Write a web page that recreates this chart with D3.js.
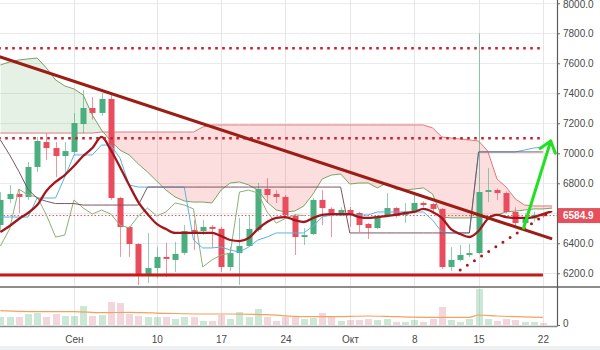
<!DOCTYPE html>
<html>
<head>
<meta charset="utf-8">
<script src="https://cdn.jsdelivr.net/npm/d3@7"></script>
<style>
  html, body { margin: 0; padding: 0; background: #ffffff; }
  svg { display: block; font-family: "Liberation Sans", Arial, sans-serif; }
</style>
</head>
<body>
<svg id="chart" width="600" height="350"></svg>
<script>
// BTC/USD, daily candles from 24 Aug 2018 (day 0) to 22 Oct 2018 (day 59)
const firstDay = "2018-08-24";

const opens  = [6522,6695,6729,6709,6909,7075,7035,6982,7009,7195,7302,7269,7362,6702,6509,6395,6189,6235,6309,6289,
                6336,6489,6482,6509,6496,6242,6335,6382,6489,6762,6729,6709,6582,6442,6462,6689,6629,6595,6622,6602,
                6529,6502,6582,6635,6589,6609,6669,6662,6629,6242,6289,6322,6335,6742,6755,6735,6609,6535,6566,6590];
const highs  = [6742,6789,6755,6942,7109,7135,7075,7075,7269,7422,7375,7402,7402,6710,6515,6400,6469,6375,6402,6409,
                6522,6555,6555,6522,6509,6375,6569,6589,6802,6835,6755,6722,6595,6502,6700,6755,6640,6640,6642,6610,
                6535,6590,6735,6642,6669,6722,6680,6670,6635,6375,6389,6395,7800,6902,6765,6745,6640,6600,6610,6600];
const lows   = [6475,6669,6602,6689,6875,6955,6842,6869,6989,7135,7225,7250,6690,6309,6309,6122,6135,6169,6176,6209,
                6322,6355,6455,6369,6209,6215,6122,6375,6475,6669,6669,6569,6322,6389,6455,6522,6442,6580,6509,6475,
                6429,6495,6575,6570,6535,6600,6640,6600,6229,6215,6280,6309,6329,6675,6689,6600,6509,6520,6545,6570];
const closes = [6689,6729,6709,6909,7082,7035,6982,7015,7202,7302,7269,7362,6702,6509,6395,6189,6235,6309,6296,6329,
                6482,6475,6509,6496,6242,6335,6382,6495,6762,6722,6709,6589,6442,6455,6689,6635,6595,6622,6595,6522,
                6502,6582,6635,6582,6609,6669,6655,6629,6242,6289,6322,6335,6742,6755,6735,6609,6535,6566,6590,6584.9];
// daily volume, thousands
const volumes = [8,8,8,11,12,8,11,9,9,19, 9,10,23,22,11,9,8,8,8,6, 8,8,4,4,10,6,13,8,16,8,
                 4,8,8,6,7,12,8,4,5,5, 6,5,6,3,3,5,3,6,18,5, 3,6,36,6,4,6,5,3,3,2];
// volume moving average: [day, value]
const volumeAvg = [[0,14.3],[4,13.3],[8,13.3],[11,12.3],[14,12.7],[18,11.7],[22,11],[25,11],[29,10.3],
                   [33,8.3],[36,8.3],[40,9],[43,8.3],[47,7.7],[51,7.7],[52,10],[54,9],[59,7.7]];

// Ichimoku components, one value per day
const leadSpanA = [7589,7609,7622,7629,7635,7569,7489,7449,7429,7389,7255,7155,7082,7022,6989,6929,6875,6815,6755,6709,
                   6682,6675,6675,6669,6755,6802,6809,6789,6755,6675,6622,6609,6615,6649,6729,6829,6855,6862,6795,6802,
                   6802,6769,6802,6762,6755,6762,6769,6729,6575,6569,6569,6569,6575,6575,6589,6609,6615,6622,6629,6629,6635];
const leadSpanB = [7135,7135,7135,7135,7135,7135,7135,7135,7135,7135,7135,7142,7142,7142,7142,7142,7142,7142,7142,7142,
                   7142,7142,7175,7189,7189,7189,7189,7189,7189,7189,7189,7189,7189,7189,7189,7189,7189,7189,7189,7189,
                   7189,7189,7189,7189,7189,7189,7189,7169,7109,7102,7095,7089,7082,7015,6829,6775,6695,6655,6649,6649,6649];
const baseLine = [7089,6990,6880,6760,6700,6680,6665,6665,6665,6655,6655,6655,6655,6655,6655,6655,6775,6775,6775,6775,
                  6775,6775,6775,6775,6775,6775,6775,6775,6775,6775,6775,6775,6775,6775,6775,6775,6775,6775,6469,6469,
                  6469,6469,6469,6469,6469,6469,6469,6469,6469,6469,6469,6469,7009,7009,7009,7009,7009,7009,7009,7009];
const conversionLine = [6575,6575,6575,6575,6702,6702,6702,6842,6989,6989,6989,7055,7055,6969,6789,6775,6775,6775,6775,6775,
                        6775,6422,6369,6369,6375,6355,6342,6375,6422,6442,6469,6469,6469,6469,6515,6575,6589,6589,6589,6589,
                        6589,6609,6609,6609,6609,6609,6609,6555,6475,6469,6469,6469,7009,7009,7009,7009,7009,7022,7035,7042];
const laggingShift = 26;
// smoothed average drawn as the thick dark-red curve
const averageLine = [6475,6515,6562,6602,6655,6749,6809,6855,6915,6982,7035,7109,7022,6909,6789,6675,6595,6529,6495,6469,
                     6469,6469,6469,6469,6449,6422,6415,6435,6495,6542,6569,6575,6555,6542,6569,6589,6595,6595,6595,6575,
                     6569,6575,6582,6589,6602,6609,6629,6609,6569,6495,6462,6442,6482,6562,6589,6575,6569,6569,6575,6595,6615];

// drawn levels and trend lines, as [day, price]
const resistanceLevels = [7700, 7100];
const supportLevel = 6189;
const levelSpan = [-1, 59];
const downTrend = [[-1, 7662], [60, 6429]];
const risingSupport = [[50, 6222], [60, 6620]];
const targetArrow = [[56.9, 6502], [59.85, 7082]];

// axes
const priceTicks = [6200, 6400, 6600, 6800, 7000, 7200, 7400, 7600, 7800, 8000];
const timeTicks = ["2018-09-01","2018-09-10","2018-09-17","2018-09-24","2018-10-01","2018-10-08","2018-10-15","2018-10-22"];
const timeTickLabels = ["Сен","10","17","24","Окт","8","15","22"];
const lastPrice = closes[closes.length - 1];

// ---------------------------------------------------------------------------
const DAY = 864e5;
const t0 = d3.utcParse("%Y-%m-%d")(firstDay).getTime();
const dayDate = i => new Date(t0 + i * DAY);

const plotRight = 557, mainBottom = 286, axisY = 326.5;
const svg = d3.select("#chart");

const x = d3.scaleUtc().domain([dayDate(-0.044), dayDate(60.53)]).range([0, plotRight]);
const xi = i => x(dayDate(i));
const y = d3.scaleLinear().domain([6200, 8000]).range([273.3, 3.3]);
const yv = d3.scaleLinear().domain([0, 40]).range([325, 285]);

const candles = opens.map((o, i) => ({ i, o, h: highs[i], l: lows[i], c: closes[i], v: volumes[i], up: closes[i] >= o }));
const UP = "#4bae7f", DOWN = "#e84c5d";

// bottom strip
svg.append("rect").attr("x", 0).attr("y", 346).attr("width", 600).attr("height", 4).attr("fill", "#eef0f2");

// grid
const grid = svg.append("g");
grid.selectAll("line.h").data(priceTicks).join("line")
  .attr("x1", 0).attr("x2", plotRight)
  .attr("y1", d => Math.round(y(d)) + 0.5).attr("y2", d => Math.round(y(d)) + 0.5)
  .attr("stroke", "#ebebeb");
const tickDates = timeTicks.map(d => d3.utcParse("%Y-%m-%d")(d));
grid.selectAll("line.v").data(tickDates).join("line")
  .attr("x1", d => Math.round(x(d)) + 0.5).attr("x2", d => Math.round(x(d)) + 0.5)
  .attr("y1", 0).attr("y2", axisY)
  .attr("stroke", "#e6e6e6");

// clip paths
const defs = svg.append("defs");
defs.append("clipPath").attr("id", "mainClip").append("rect")
  .attr("x", 0).attr("y", 0).attr("width", plotRight).attr("height", mainBottom);
const cloud = leadSpanA.map((a, i) => ({ i, a, b: leadSpanB[i] }));
defs.append("clipPath").attr("id", "aboveA").append("path")
  .attr("d", d3.area().x(d => xi(d.i)).y0(-50).y1(d => y(d.a))(cloud));
defs.append("clipPath").attr("id", "aboveB").append("path")
  .attr("d", d3.area().x(d => xi(d.i)).y0(-50).y1(d => y(d.b))(cloud));

const main = svg.append("g").attr("clip-path", "url(#mainClip)");

// cloud fill: red where span B is above span A, green otherwise
const band = d3.area().x(d => xi(d.i)).y0(d => y(d.a)).y1(d => y(d.b));
main.append("g").attr("clip-path", "url(#aboveA)").append("path")
  .attr("d", band(cloud)).attr("fill", "rgba(240,90,90,0.2)");
main.append("g").attr("clip-path", "url(#aboveB)").append("path")
  .attr("d", band(cloud)).attr("fill", "rgba(90,165,90,0.16)");

const lineOf = (acc) => d3.line().x((d, i) => xi(i)).y(d => y(acc(d)));
main.append("path").attr("d", lineOf(d => d)(leadSpanA))
  .attr("fill", "none").attr("stroke", "#7aa367").attr("stroke-width", 1);
main.append("path").attr("d", lineOf(d => d)(leadSpanB))
  .attr("fill", "none").attr("stroke", "#e07a7a").attr("stroke-width", 1);

// current price line
main.append("line")
  .attr("x1", 0).attr("x2", plotRight).attr("y1", y(lastPrice)).attr("y2", y(lastPrice))
  .attr("stroke", "#e5505c").attr("stroke-width", 1).attr("stroke-dasharray", "1.5 2");

// candles
const cg = main.append("g");
cg.selectAll("line.wick").data(candles).join("line")
  .attr("x1", d => Math.round(xi(d.i)) + 0.5).attr("x2", d => Math.round(xi(d.i)) + 0.5)
  .attr("y1", d => y(d.h)).attr("y2", d => y(d.l))
  .attr("stroke", d => d.up ? UP : DOWN).attr("stroke-opacity", 0.6).attr("stroke-width", 1);
cg.selectAll("rect.body").data(candles).join("rect")
  .attr("x", d => Math.round(xi(d.i)) - 2.5).attr("width", 6)
  .attr("y", d => y(Math.max(d.o, d.c)))
  .attr("height", d => Math.max(1.5, Math.abs(y(d.o) - y(d.c))))
  .attr("fill", d => d.up ? UP : DOWN);

// ichimoku lines
const lagging = closes.slice(laggingShift);
main.append("path").attr("d", lineOf(d => d)(lagging))
  .attr("fill", "none").attr("stroke", "#8cb07a").attr("stroke-width", 1);
main.append("path").attr("d", lineOf(d => d)(conversionLine))
  .attr("fill", "none").attr("stroke", "#59b4e4").attr("stroke-width", 1);
main.append("path").attr("d", lineOf(d => d)(baseLine))
  .attr("fill", "none").attr("stroke", "#7d5562").attr("stroke-width", 1);
main.append("path").attr("d", d3.line().x((d, i) => xi(i)).y(d => y(d)).curve(d3.curveMonotoneX)(averageLine))
  .attr("fill", "none").attr("stroke", "#a3171c").attr("stroke-width", 2.3);

// drawn levels
const seg = d3.line().x(d => xi(d[0])).y(d => y(d[1]));
resistanceLevels.forEach(p => {
  main.append("path").attr("d", seg([[levelSpan[0], p], [levelSpan[1], p]]))
    .attr("fill", "none").attr("stroke", "#c9202d").attr("stroke-width", 2.6)
    .attr("stroke-dasharray", "2.6 4.4");
});
main.append("path").attr("d", seg([[levelSpan[0], supportLevel], [levelSpan[1], supportLevel]]))
  .attr("fill", "none").attr("stroke", "#c81818").attr("stroke-width", 3);
main.append("path").attr("d", seg(downTrend))
  .attr("fill", "none").attr("stroke", "#9b1d14").attr("stroke-width", 3);
main.append("path").attr("d", seg(risingSupport))
  .attr("fill", "none").attr("stroke", "#a51c1c").attr("stroke-width", 3)
  .attr("stroke-linecap", "round").attr("stroke-dasharray", "0 8.5");

// target arrow
const a0 = [xi(targetArrow[0][0]), y(targetArrow[0][1])];
const a1 = [xi(targetArrow[1][0]), y(targetArrow[1][1])];
const ang = Math.atan2(a0[1] - a1[1], a0[0] - a1[0]);
const wing = (da) => [a1[0] + 13 * Math.cos(ang + da), a1[1] + 13 * Math.sin(ang + da)];
svg.append("path").attr("d", d3.line()([a0, a1]))
  .attr("fill", "none").attr("stroke", "#22e022").attr("stroke-width", 3).attr("stroke-linecap", "round");
svg.append("path").attr("d", d3.line()([wing(0.66), a1, wing(-0.66)]))
  .attr("fill", "none").attr("stroke", "#22e022").attr("stroke-width", 3)
  .attr("stroke-linecap", "round").attr("stroke-linejoin", "round");

// volume pane
const vg = svg.append("g");
vg.selectAll("rect").data(candles).join("rect")
  .attr("x", d => Math.round(xi(d.i)) - 3).attr("width", 7)
  .attr("y", d => yv(d.v)).attr("height", d => yv(0) - yv(d.v))
  .attr("fill", d => d.up ? "rgba(83,178,120,0.3)" : "rgba(215,120,135,0.3)");
vg.append("path").attr("d", d3.line().x(d => xi(d[0])).y(d => yv(d[1])).curve(d3.curveMonotoneX)(volumeAvg))
  .attr("fill", "none").attr("stroke", "#f5a05e").attr("stroke-width", 1.2);

// frame lines
svg.append("line").attr("x1", 0).attr("x2", 600).attr("y1", 287).attr("y2", 287)
  .attr("stroke", "#8c8c8c").attr("stroke-width", 2);
svg.append("line").attr("x1", 0).attr("x2", plotRight).attr("y1", axisY).attr("y2", axisY)
  .attr("stroke", "#8a8a8a").attr("stroke-width", 1.5);
svg.append("line").attr("x1", plotRight + 0.5).attr("x2", plotRight + 0.5).attr("y1", 0).attr("y2", axisY)
  .attr("stroke", "#5a5a5a").attr("stroke-width", 1.2);

// price axis: labels hidden where the last-price tag covers them
const tagY = y(lastPrice);
const labelTicks = priceTicks.filter(p => Math.abs(y(p) - tagY) > 12);
const pAxis = svg.append("g").attr("transform", `translate(${plotRight},0)`)
  .call(d3.axisRight(y).tickValues(labelTicks).tickFormat(d3.format(".1f")).tickSize(3).tickPadding(3));
pAxis.select(".domain").remove();
pAxis.selectAll("line").attr("stroke", "#666");
pAxis.selectAll("text").attr("fill", "#4a4a4a").attr("font-size", 10)
  .attr("font-family", "Liberation Sans, Arial, sans-serif")
  .attr("dy", d => y(d) < 6 ? "0.72em" : "0.32em")
  .attr("y", d => y(d) < 6 ? -y(d) + 0.5 : 0);

// volume axis
const vAxis = svg.append("g").attr("transform", `translate(${plotRight},0)`)
  .call(d3.axisRight(yv).tickValues([0]).tickFormat(d3.format("d")).tickSize(3).tickPadding(3));
vAxis.select(".domain").remove();
vAxis.selectAll("line").attr("stroke", "#666");
vAxis.selectAll("text").attr("fill", "#4a4a4a").attr("font-size", 10)
  .attr("font-family", "Liberation Sans, Arial, sans-serif").attr("dy", "0.1em");

// last price tag
svg.append("rect").attr("x", plotRight + 1).attr("y", tagY - 7.5).attr("width", 600 - plotRight).attr("height", 15)
  .attr("fill", "#e5505c");
svg.append("text").attr("x", plotRight + 6).attr("y", tagY).attr("dy", "0.35em")
  .attr("fill", "#ffffff").attr("font-size", 10).attr("font-weight", "bold")
  .text(d3.format(".1f")(lastPrice));

// time axis
const tAxis = svg.append("g").attr("transform", `translate(0,${axisY})`)
  .call(d3.axisBottom(x).tickValues(tickDates).tickSize(0).tickPadding(9)
    .tickFormat((d, i) => timeTickLabels[i]));
tAxis.select(".domain").remove();
tAxis.selectAll("text").attr("fill", "#4a4a4a").attr("font-size", 10)
  .attr("font-family", "Liberation Sans, Arial, sans-serif");
</script>
</body>
</html>
